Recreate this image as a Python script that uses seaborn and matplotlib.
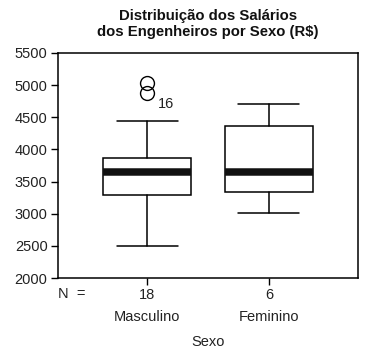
import matplotlib
matplotlib.use("Agg")
import matplotlib.pyplot as plt
import matplotlib.transforms as mtransforms
import seaborn as sns

groups = ["Masculino", "Feminino"]
counts = [18, 6]
whislo = [2500, 3010]
q1 = [3290, 3340]
med = [3650, 3650]
q3 = [3860, 4360]
whishi = [4440, 4700]
fliers = [[4870, 5030], []]
flier_label = "16"
yticks = [2000, 2500, 3000, 3500, 4000, 4500, 5000, 5500]

sns.set_theme(style="ticks")
plt.rcParams['font.family'] = ['Liberation Sans', 'DejaVu Sans']

FS = 10.5
TXT = "#222222"

fig = plt.figure(figsize=(3.68, 3.54), dpi=100)
ax = fig.add_axes([58/368, 76/354, 300/368, 225/354])

stats = []
for i, g in enumerate(groups):
    stats.append(dict(label=g, whislo=whislo[i], q1=q1[i], med=med[i], q3=q3[i],
                      whishi=whishi[i], fliers=fliers[i]))

ax.bxp(stats, positions=list(range(len(groups))), widths=0.715, capwidths=0.5,
       patch_artist=True, showfliers=True,
       boxprops=dict(facecolor="white", edgecolor="black", linewidth=1.1),
       medianprops=dict(color="#111111", linewidth=5.4, solid_capstyle="butt"),
       whiskerprops=dict(color="black", linewidth=1.1),
       capprops=dict(color="black", linewidth=1.1),
       flierprops=dict(marker="o", markerfacecolor="none", markeredgecolor="black",
                       markersize=10, markeredgewidth=1.0))

ax.text(0.09, 4700, flier_label, ha="left", va="center", fontsize=FS, color=TXT)

ax.set_xlim(-0.73, 1.73)
ax.set_ylim(2000, 5500)
ax.set_yticks(yticks)
ax.set_yticklabels([str(v) for v in yticks])
ax.set_xticks(range(len(groups)))
ax.set_xticklabels([str(c) for c in counts])
ax.tick_params(axis="both", direction="out", length=5, width=1, colors="black",
               labelsize=FS, labelcolor=TXT, pad=2.5)
for s in ax.spines.values():
    s.set_visible(True)
    s.set_color("black")
    s.set_linewidth(1.1)

trans = mtransforms.blended_transform_factory(ax.transData, fig.transFigure)
for i, g in enumerate(groups):
    ax.text(i, 1 - 317/354, g, transform=trans, ha="center", va="center",
            fontsize=FS, color=TXT)
fig.text(58/368, 1 - 294/354, "N  =", ha="left", va="center", fontsize=FS, color=TXT)
fig.text(208/368, 1 - 342/354, "Sexo", ha="center", va="center", fontsize=FS, color=TXT)
fig.text(208/368, 1 - 24/354, "Distribuição dos Salários\ndos Engenheiros por Sexo (R$)",
         ha="center", va="center", fontsize=10.7, fontweight="bold", color="#111111",
         linespacing=1.25)

fig.savefig("out.png", dpi=100, facecolor="white")
